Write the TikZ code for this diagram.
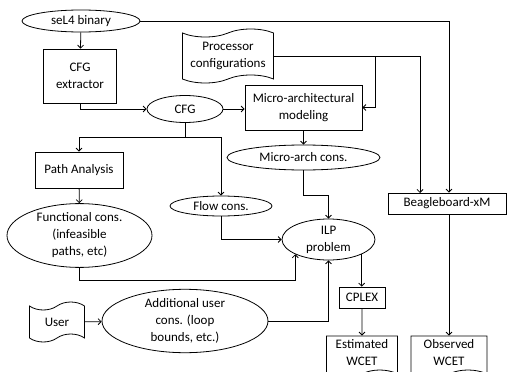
\documentclass[tikz,border=0pt]{standalone}
\usepackage{fontspec}
\setmainfont{Carlito}
\usetikzlibrary{shapes.geometric,shapes.symbols,arrows.meta}

\begin{document}
\begin{tikzpicture}[
    x=1pt, y=-1pt,
    font=\fontsize{13}{17}\selectfont,
    line width=0.8pt,
    box/.style={rectangle, draw, align=center, inner sep=0pt},
    oval/.style={ellipse, draw, align=center, inner sep=0pt},
    tapebox/.style={tape, draw, align=center, inner sep=0pt, tape bend height=8pt},
    docbox/.style={tape, draw, align=center, inner sep=0pt, tape bend top=none, tape bend height=8pt},
    arrow/.style={-{Straight Barb[length=3pt, width=6pt]}}
]
    \useasboundingbox (0,0) rectangle (507,372);

    \node[oval, minimum width=118, minimum height=22] (sel4) at (81,21) {seL4 binary};
    \node[box, minimum width=73, minimum height=54] (cfgx) at (80,76) {CFG\\extractor};
    \node[tapebox, minimum width=91, minimum height=54] (proc) at (228,56) {Processor\\configurations};
    \node[oval, minimum width=76, minimum height=27] (cfg) at (185,109) {CFG};
    \node[box, minimum width=117, minimum height=45] (micro) at (303.5,107.5) {Micro-architectural\\modeling};
    \node[oval, minimum width=153, minimum height=25] (mcons) at (303.5,157.5) {Micro-arch cons.};
    \node[box, minimum width=88, minimum height=36] (path) at (79,170) {Path Analysis};
    \node[oval, minimum width=102, minimum height=20] (flow) at (221,206) {Flow cons.};
    \node[oval, minimum width=145, minimum height=57] (func) at (79.5,235.5) {Functional cons.\\(infeasible\\paths, etc)};
    \node[oval, minimum width=93, minimum height=41] (ilp) at (328.5,239.5) {ILP\\problem};
    \node[box, minimum width=118, minimum height=21] (beagle) at (447,203.5) {Beagleboard-xM};
    \node[tapebox, minimum width=55, minimum height=40] (user) at (57,322) {User};
    \node[oval, minimum width=166, minimum height=58] (addl) at (185,321) {Additional user\\cons. (loop\\bounds, etc.)};
    \node[box, minimum width=46, minimum height=21] (cplex) at (362,297.5) {CPLEX};
    \node[docbox, minimum width=71, minimum height=42] (est) at (362,353) {Estimated\\WCET};
    \node[docbox, minimum width=76, minimum height=42] (obs) at (449,353) {Observed\\WCET};

    \coordinate (split) at (185,137);
    \coordinate (pj) at (375,56);
    \coordinate (bin) at (420,193);

    \draw[arrow] (sel4) -- (cfgx);
    \draw[arrow] (cfgx.south) |- (cfg.west);
    \draw[arrow] (cfg.east) -- (cfg.east -| micro.west);
    \draw[arrow] (micro) -- (mcons);
    \draw[arrow] (mcons.south) -- ++(0,25) -| (ilp.north);
    \draw (cfg.south) -- (split);
    \draw[arrow] (split) -| (path.north);
    \draw[arrow] (split) -| (flow.north);
    \draw[arrow] (path) -- (func);
    \draw[arrow] (flow.south) |- (ilp.west);
    \draw[arrow] (func.south) -- ++(0,13) -| (ilp.south west);
    \draw[arrow] (user) -- (addl);
    \draw[arrow] (addl.east) -| (ilp.south);
    \draw[arrow] (ilp.south east) -- (ilp.south east |- cplex.north);
    \draw[arrow] (cplex) -- (est);
    \draw[arrow] (sel4.east) -| (obs.north |- beagle.north);
    \draw[arrow] (proc.east) -| (bin);
    \draw[arrow] (pj) |- (micro.east);
    \draw[arrow] (obs.north |- beagle.south) -- (obs.north);
\end{tikzpicture}
\end{document}
